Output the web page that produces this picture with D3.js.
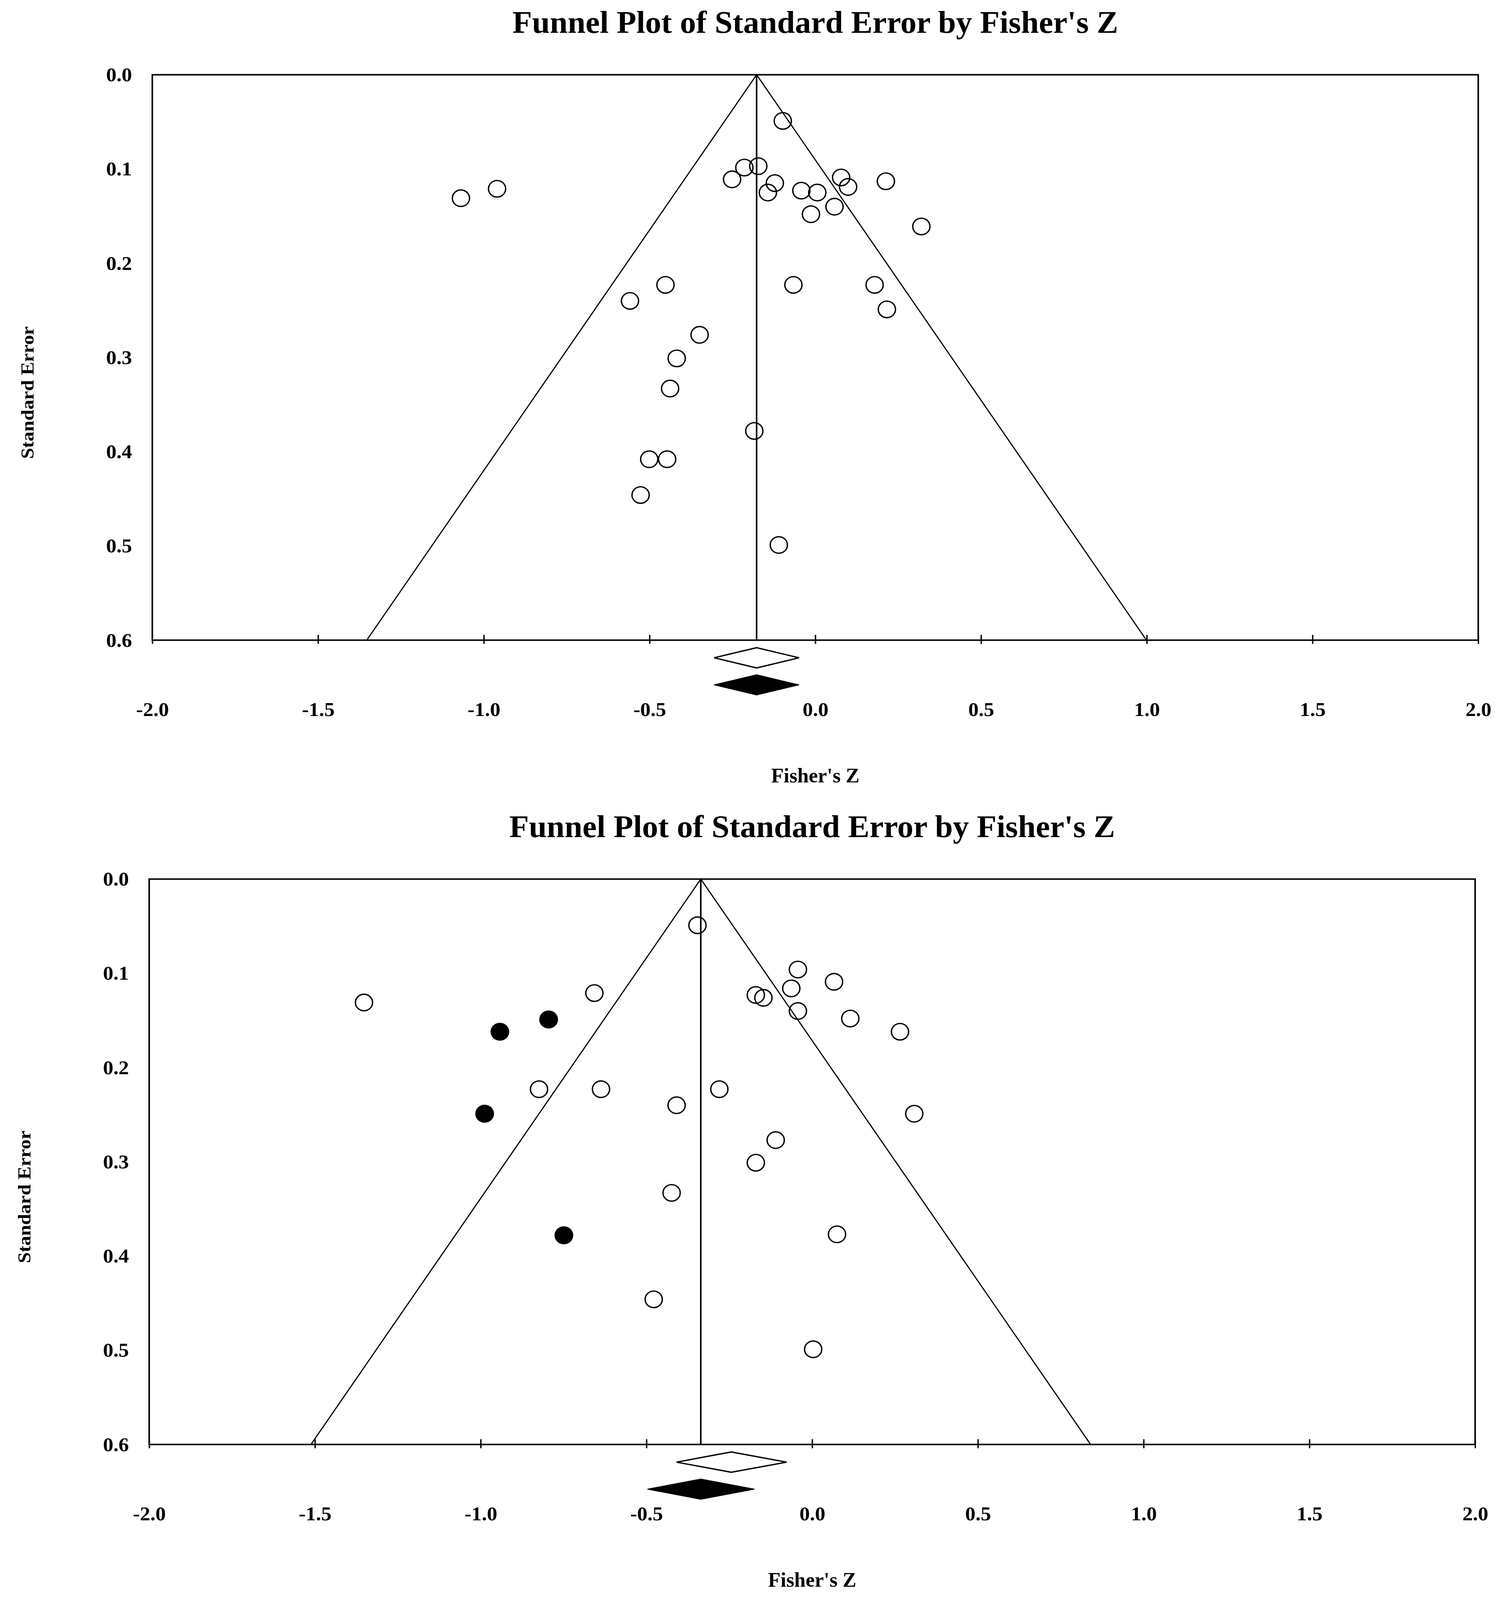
<!DOCTYPE html>
<html>
<head>
<meta charset="utf-8">
<script src="https://cdn.jsdelivr.net/npm/d3@7"></script>
<style>
  html, body { margin: 0; padding: 0; background: #fff; overflow: hidden; }
  #container { width: 100vw; height: 100vh; }
  svg { display: block; }
  text { font-family: "Liberation Serif", "DejaVu Serif", serif; font-weight: bold; fill: #000; }
</style>
</head>
<body>
<div id="container"></div>
<script>
/* CONSTANTS AND GLOBALS */
const width = 3833,
  height = 4259,
  plotW = 3395,
  plotH = 1505;

const titleText = "Funnel Plot of Standard Error by Fisher's Z";
const xTitle = "Fisher's Z";
const yTitle = "Standard Error";

const xTicks = [-2.0, -1.5, -1.0, -0.5, 0.0, 0.5, 1.0, 1.5, 2.0];
const yTicks = [0.0, 0.1, 0.2, 0.3, 0.4, 0.5, 0.6];

/* DATA: panel 1 (observed studies) */
const p1Z = [-0.098, -0.214, -0.172, -0.251, -0.122, -0.143, -0.042, 0.006, 0.078, 0.099,
  0.213, 0.058, -0.013, 0.320, -1.069, -0.960, -0.452, -0.559, -0.066, 0.179,
  0.216, -0.349, -0.418, -0.438, -0.184, -0.501, -0.447, -0.527, -0.110];
const p1SE = [0.049, 0.0985, 0.097, 0.111, 0.115, 0.125, 0.123, 0.125, 0.109, 0.119,
  0.113, 0.140, 0.148, 0.161, 0.131, 0.121, 0.223, 0.240, 0.223, 0.223,
  0.249, 0.276, 0.301, 0.333, 0.378, 0.408, 0.408, 0.446, 0.499];
const p1ImpZ = [];
const p1ImpSE = [];
// summary diamonds: [estimate, lower, upper]
const p1Observed = [-0.177, -0.305, -0.049];
const p1Adjusted = [-0.177, -0.305, -0.049];

/* DATA: panel 2 (observed + imputed studies) */
const p2Z = [-0.346, -0.043, 0.066, -0.063, -0.170, -0.147, -0.043, 0.115, 0.265, -0.657,
  -1.352, -0.824, -0.637, -0.280, -0.409, 0.308, -0.110, -0.170, -0.424, 0.075,
  -0.478, 0.003];
const p2SE = [0.049, 0.096, 0.109, 0.116, 0.123, 0.126, 0.140, 0.148, 0.162, 0.121,
  0.131, 0.223, 0.223, 0.223, 0.240, 0.249, 0.277, 0.301, 0.333, 0.377,
  0.446, 0.499];
const p2ImpZ = [-0.795, -0.942, -0.988, -0.749];
const p2ImpSE = [0.149, 0.162, 0.249, 0.378];
const p2Observed = [-0.244, -0.409, -0.077];
const p2Adjusted = [-0.336, -0.497, -0.174];

let svg;

/* INIT */
function init() {
  // scale the 3833x4259 drawing to whatever the visible page is
  svg = d3.select("#container")
    .append("svg")
    .attr("width", "100%")
    .attr("height", "100%")
    .attr("viewBox", `0 0 ${width} ${height}`)
    .attr("preserveAspectRatio", "none");

  svg.append("rect")
    .attr("width", width)
    .attr("height", height)
    .attr("fill", "#fff");

  draw({ left: 390, top: 199 }, p1Z, p1SE, p1ImpZ, p1ImpSE, p1Observed, p1Adjusted);
  draw({ left: 382, top: 2340 }, p2Z, p2SE, p2ImpZ, p2ImpSE, p2Observed, p2Adjusted);
}

/* DRAW ONE FUNNEL PANEL */
function draw(pos, zs, ses, impZ, impSE, observed, adjusted) {
  const g = svg.append("g")
    .attr("transform", `translate(${pos.left}, ${pos.top})`);

  const xScale = d3.scaleLinear().domain([-2, 2]).range([0, plotW]);
  const yScale = d3.scaleLinear().domain([0, 0.6]).range([0, plotH]);

  const fmt = d => d.toFixed(1);

  // title
  g.append("text")
    .attr("x", plotW / 2)
    .attr("y", -112)
    .attr("text-anchor", "middle")
    .attr("font-size", 84)
    .attr("textLength", 1551)
    .attr("lengthAdjust", "spacingAndGlyphs")
    .text(titleText);

  // x axis (ticks cross the bottom frame line, labels sit below the diamonds)
  const xAxisGroup = g.append("g")
    .attr("transform", `translate(0, ${plotH})`)
    .call(d3.axisBottom(xScale).tickValues(xTicks).tickFormat(fmt).tickSize(10).tickPadding(154));
  xAxisGroup.select(".domain").remove();
  xAxisGroup.selectAll(".tick line")
    .attr("y1", -14)
    .attr("stroke", "#000")
    .attr("stroke-width", 3.5);
  xAxisGroup.selectAll(".tick text")
    .attr("font-size", 53);
  xAxisGroup.attr("font-family", null).attr("font-size", null);

  // y axis (labels only)
  const yAxisGroup = g.append("g")
    .call(d3.axisLeft(yScale).tickValues(yTicks).tickFormat(fmt).tickSize(0).tickPadding(52));
  yAxisGroup.select(".domain").remove();
  yAxisGroup.selectAll(".tick text")
    .attr("font-size", 53);
  yAxisGroup.attr("font-family", null).attr("font-size", null);

  // axis titles
  g.append("text")
    .attr("x", plotW / 2)
    .attr("y", plotH + 379)
    .attr("text-anchor", "middle")
    .attr("font-size", 54)
    .attr("textLength", 226)
    .attr("lengthAdjust", "spacingAndGlyphs")
    .text(xTitle);

  g.append("text")
    .attr("transform", `translate(-304, 846) rotate(-90)`)
    .attr("text-anchor", "middle")
    .attr("font-size", 46)
    .attr("textLength", 353)
    .attr("lengthAdjust", "spacingAndGlyphs")
    .text(yTitle);

  // funnel: 95% limits around the adjusted estimate
  const centre = adjusted[0];
  const seMax = 0.6;
  const funnel = [
    [centre - 1.96 * seMax, seMax],
    [centre, 0],
    [centre + 1.96 * seMax, seMax]
  ];
  g.append("path")
    .attr("d", d3.line().x(d => xScale(d[0])).y(d => yScale(d[1]))(funnel))
    .attr("fill", "none")
    .attr("stroke", "#000")
    .attr("stroke-width", 3);

  g.append("line")
    .attr("x1", xScale(centre)).attr("x2", xScale(centre))
    .attr("y1", yScale(0)).attr("y2", yScale(seMax))
    .attr("stroke", "#000")
    .attr("stroke-width", 4);

  // frame
  g.append("rect")
    .attr("width", plotW)
    .attr("height", plotH)
    .attr("fill", "none")
    .attr("stroke", "#000")
    .attr("stroke-width", 4);

  // observed studies
  g.selectAll("circle.obs")
    .data(d3.zip(zs, ses))
    .join("circle")
    .attr("class", "obs")
    .attr("cx", d => xScale(d[0]))
    .attr("cy", d => yScale(d[1]))
    .attr("r", 22)
    .attr("fill", "none")
    .attr("stroke", "#000")
    .attr("stroke-width", 3.5);

  // imputed studies
  g.selectAll("circle.imp")
    .data(d3.zip(impZ, impSE))
    .join("circle")
    .attr("class", "imp")
    .attr("cx", d => xScale(d[0]))
    .attr("cy", d => yScale(d[1]))
    .attr("r", 24)
    .attr("fill", "#000");

  // summary diamonds
  const diamond = (s, cy) => {
    const half = 27;
    return `M${xScale(s[1])},${cy} L${xScale(s[0])},${cy - half} L${xScale(s[2])},${cy} L${xScale(s[0])},${cy + half} Z`;
  };
  g.append("path")
    .attr("d", diamond(observed, plotH + 47))
    .attr("fill", "#fff")
    .attr("stroke", "#000")
    .attr("stroke-width", 3.5);
  g.append("path")
    .attr("d", diamond(adjusted, plotH + 119))
    .attr("fill", "#000")
    .attr("stroke", "#000")
    .attr("stroke-width", 2);
}

init();
</script>
</body>
</html>
